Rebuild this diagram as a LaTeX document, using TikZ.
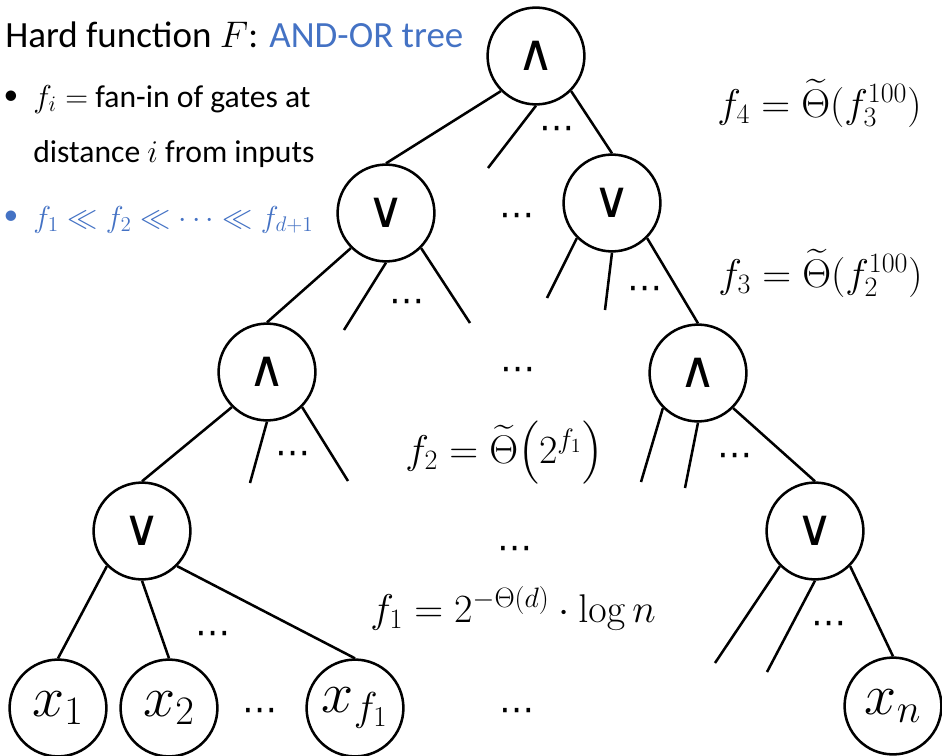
\RequirePackage{fix-cm}
\documentclass[tikz,border=0pt]{standalone}
\usepackage{amsmath}
\usepackage[no-math]{fontspec}
\setmainfont{Carlito}
\newfontfamily\gatefont{DejaVu Sans}
\definecolor{accent}{RGB}{68,114,196}

\begin{document}
\begin{tikzpicture}[
    x=0.025cm, y=-0.025cm,
    gate/.style={draw, circle, line width=1.8pt, minimum size=2.42cm, inner sep=0pt, font=\gatefont\fontsize{36}{36}\selectfont},
    leaf/.style={gate, font=\fontsize{41}{41}\selectfont},
    edge/.style={line width=1.8pt},
    dots/.style={inner sep=0pt, yshift=-0.12cm, font=\gatefont\fontsize{25}{25}\selectfont},
    lbl/.style={anchor=base west, inner sep=0pt, font=\fontsize{28.5}{32}\selectfont},
    txt/.style={anchor=base west, inner sep=0pt, font=\fontsize{22.5}{26}\selectfont},
    bul/.style={anchor=base, inner sep=0pt, font=\fontsize{21}{25}\selectfont},
]
\useasboundingbox (0,0) rectangle (942,756);

% Heading and bullets
\node[anchor=base west, inner sep=0pt, font=\fontsize{26.3}{32}\selectfont] (title) at (5,47)
    {Hard function $F$: \textcolor{accent}{AND-OR tree}};
\node[bul] (b1) at (11,104) {\textbullet};
\node[txt] (l1) at (33,107) {$f_i =$ fan-in of gates at};
\node[txt] (l2) at (33,162) {distance $i$ from inputs};
\node[bul, text=accent] (b3) at (11,224) {\textbullet};
\node[txt, text=accent, font=\fontsize{21.5}{26}\selectfont] (l3) at (33,227) {$f_1 \ll f_2 \ll \cdots \ll f_{d+1}$};

% Gates, level by level
\node[gate] (root) at (536,56) {∧};
\node[gate] (or2l) at (386,213) {∨};
\node[gate] (or2r) at (612,203) {∨};
\node[gate] (and3l) at (267,372) {∧};
\node[gate] (and3r) at (698,373) {∧};
\node[gate] (or4l) at (142,531) {∨};
\node[gate] (or4r) at (815,531) {∨};

% Inputs
\node[leaf] (x1) at (58,708) {$x_1$};
\node[leaf] (x2) at (169,708) {$x_2$};
\node[leaf] (xf) at (355,708) {$x_{f_1}$};
\node[leaf] (xn) at (893,706) {$x_n$};

% Loose ends of the wires
\foreach \n/\x/\y in {s0/488/168, s1/344/330, s2/470/323, s3/547/298, s4/605/310,
                      s5/250/483, s6/348/481, s7/641/482, s8/685/488, s9/715/663, s10/767/672} {
    \coordinate (\n) at (\x,\y);
}

% Wires
\foreach \a/\b in {root.225/or2l.north, root.south/s0, root.-45/or2r.north,
                   or2l.225/and3l.north, or2l.south/s1, or2l.-45/s2,
                   or2r.225/s3, or2r.south/s4, or2r.-45/and3r.north,
                   and3l.225/or4l.north, and3l.south/s5, and3l.-45/s6,
                   and3r.225/s7, and3r.south/s8, and3r.-45/or4r.north,
                   or4l.225/x1.north, or4l.south/x2.north, or4l.-45/xf.north,
                   or4r.225/s9, or4r.south/s10, or4r.-45/xn.north} {
    \draw[edge] (\a) -- (\b);
}

% Elided children
\foreach \x/\y [count=\k] in {557/128, 407/301, 645/288, 293/453, 735/455, 213/633, 829/623,
                              260/710, 517/215, 518/369, 515/548, 517/710} {
    \node[dots] (dt\k) at (\x,\y) {⋯};
}

% Fan-in growth
\node[lbl] (f4) at (717,117) {$f_4 = \widetilde{\Theta}(f_3^{100})$};
\node[lbl] (f3) at (718,287) {$f_3 = \widetilde{\Theta}(f_2^{100})$};
\node[lbl] (f2) at (405,463) {$f_2 = \widetilde{\Theta}\bigl(2^{f_1}\bigr)$};
\node[lbl] (f1) at (370,622) {$f_1 = 2^{-\Theta(d)} \cdot \log n$};

\end{tikzpicture}
\end{document}
